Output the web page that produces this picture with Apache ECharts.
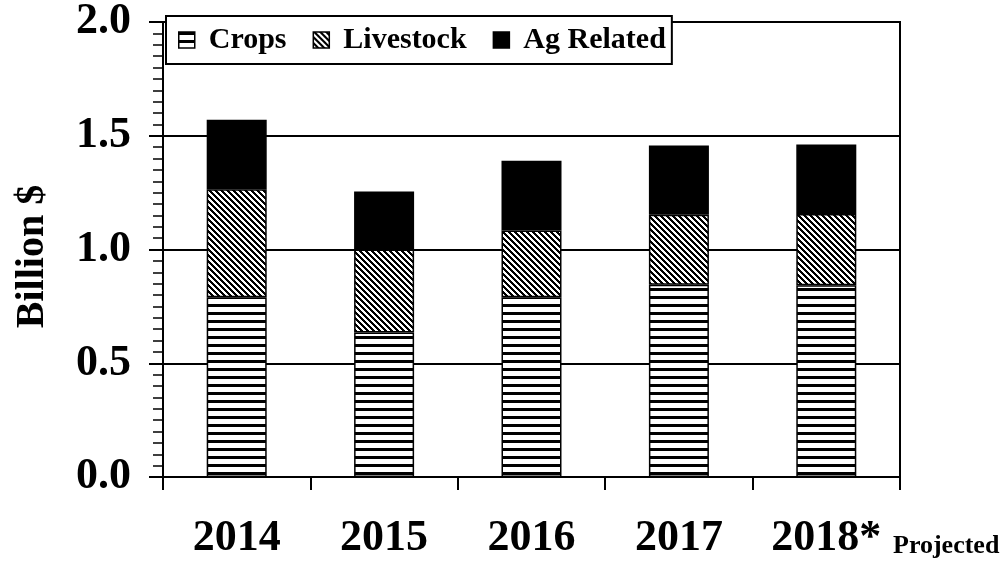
<!DOCTYPE html>
<html>
<head>
<meta charset="utf-8">
<script src="https://cdn.jsdelivr.net/npm/echarts@6/dist/echarts.min.js"></script>
<style>
html,body{margin:0;padding:0;background:#fff;}
#chart{width:1007px;height:569px;}
</style>
</head>
<body>
<div id="chart"></div>
<script>
var categories = ["2014", "2015", "2016", "2017", "2018*"];
var crops = [0.79, 0.635, 0.79, 0.845, 0.843];
var livestock = [0.475, 0.365, 0.293, 0.308, 0.313];
var agRelated = [0.305, 0.255, 0.307, 0.304, 0.305];
var yTicks = [0, 0.5, 1.0, 1.5, 2.0];

function hStripe() {
  var c = document.createElement('canvas');
  c.width = 8; c.height = 8;
  var g = c.getContext('2d');
  g.fillStyle = '#fff'; g.fillRect(0, 0, 8, 8);
  g.fillStyle = '#000'; g.fillRect(0, 0, 8, 3);
  return c;
}
function diagStripe() {
  var n = 6, c = document.createElement('canvas');
  c.width = n; c.height = n;
  var g = c.getContext('2d');
  var img = g.createImageData(n, n);
  for (var y = 0; y < n; y++) {
    for (var x = 0; x < n; x++) {
      var v = (((x - y) % n) + n) % n < 3 ? 0 : 255;
      var i = (y * n + x) * 4;
      img.data[i] = v; img.data[i + 1] = v; img.data[i + 2] = v; img.data[i + 3] = 255;
    }
  }
  g.putImageData(img, 0, 0);
  return c;
}

var font = '"Liberation Serif", "Times New Roman", serif';
var chart = echarts.init(document.getElementById('chart'), null, {renderer: 'canvas'});
var border = {borderColor: '#000', borderWidth: 1.5};

chart.setOption({
  animation: false,
  backgroundColor: '#fff',
  grid: {left: 163, right: 107, top: 22, bottom: 92, show: true, borderColor: '#000', borderWidth: 2,
    backgroundColor: 'transparent', containLabel: false, outerBoundsMode: 'none'},
  legend: {
    left: 166, top: 16,
    padding: [8, 6, 8, 12],
    itemGap: 26,
    icon: 'rect',
    itemWidth: 16, itemHeight: 16,
    backgroundColor: '#fff',
    borderColor: '#000', borderWidth: 2,
    itemStyle: {borderColor: '#000', borderWidth: 1.5},
    textStyle: {fontFamily: font, fontWeight: 'bold', fontSize: 30, color: '#000', lineHeight: 32, padding: [0, 0, 0, 9]},
    data: ['Crops', 'Livestock', 'Ag Related']
  },
  xAxis: {
    type: 'category',
    data: categories,
    axisLine: {lineStyle: {color: '#000', width: 2}},
    axisTick: {show: true, length: 13, lineStyle: {color: '#000', width: 2}},
    axisLabel: {fontFamily: font, fontWeight: 'bold', fontSize: 44, color: '#000', margin: 40}
  },
  yAxis: {
    type: 'value',
    min: 0, max: 2, interval: 0.5,
    name: 'Billion $',
    nameLocation: 'middle',
    nameRotate: 90,
    nameGap: 110,
    nameTextStyle: {fontFamily: font, fontWeight: 'bold', fontSize: 40, color: '#000', padding: [0, 14, 0, 0]},
    axisLine: {show: true, lineStyle: {color: '#000', width: 2}},
    axisTick: {show: true, length: 14, lineStyle: {color: '#000', width: 2}},
    minorTick: {show: true, splitNumber: 10, length: 10, lineStyle: {color: '#000', width: 1.5}},
    splitLine: {show: true, lineStyle: {color: '#000', width: 2}},
    axisLabel: {fontFamily: font, fontWeight: 'bold', fontSize: 44, color: '#000', margin: 32,
      padding: [12, 0, 0, 0],
      formatter: function (v) { return v.toFixed(1); }}
  },
  series: [
    {name: 'Crops', type: 'bar', stack: 'a', barWidth: 60, data: crops,
      itemStyle: Object.assign({color: {image: hStripe(), repeat: 'repeat'}}, border)},
    {name: 'Livestock', type: 'bar', stack: 'a', barWidth: 60, data: livestock,
      itemStyle: Object.assign({color: {image: diagStripe(), repeat: 'repeat'}}, border)},
    {name: 'Ag Related', type: 'bar', stack: 'a', barWidth: 60, data: agRelated,
      itemStyle: Object.assign({color: '#000'}, border)}
  ],
  graphic: [{
    type: 'text', left: 893, top: 533,
    style: {text: 'Projected', fontFamily: font, fontWeight: 'bold', fontSize: 26, fill: '#000'}
  }]
});
</script>
</body>
</html>
